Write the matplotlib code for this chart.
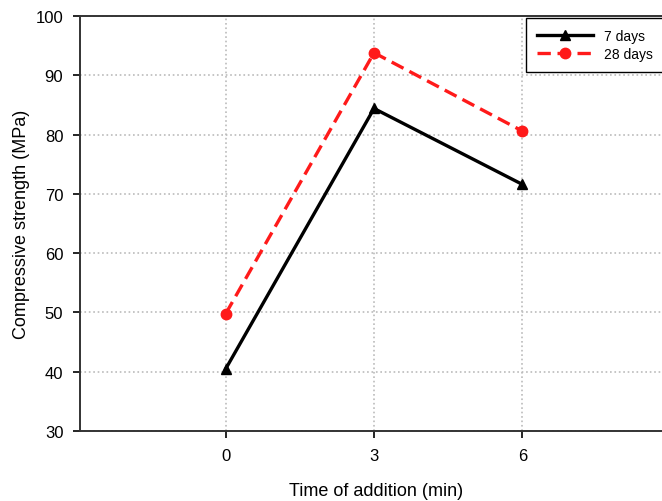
import matplotlib.pyplot as plt

plt.rcParams['font.family'] = ['Liberation Sans', 'DejaVu Sans']

time_min = [0, 3, 6]
strength_7d = [40.5, 84.4, 71.6]
strength_28d = [49.8, 93.8, 80.6]

fig = plt.figure(figsize=(6.62, 5.02), dpi=100)
# the right edge of the original frame is cut off, so the axes run past the figure
ax = fig.add_axes([80 / 662, 1 - 432 / 502, 593 / 662, 415 / 502])

ax.plot(time_min, strength_7d, color="black", linestyle="-", linewidth=2.4,
        marker="^", markersize=7, label="7 days")
ax.plot(time_min, strength_28d, color="#ff1a1a", linestyle="--", linewidth=2.4,
        marker="o", markersize=7.5, dashes=(4, 2), label="28 days")

ax.set_xlim(-2.95, 9.05)
ax.set_ylim(30, 100)
ax.set_xticks(time_min)
ax.set_yticks(range(30, 101, 10))
ax.tick_params(direction="out", length=5, width=1.2, labelsize=12, pad=7)

ax.grid(True, linestyle=":", color="#bbbbbb", linewidth=1.2)
ax.set_axisbelow(True)
for s in ax.spines.values():
    s.set_linewidth(1.4)
    s.set_color("#333333")

ax.set_xlabel("Time of addition (min)", fontsize=13, labelpad=14)
ax.set_ylabel("Compressive strength (MPa)", fontsize=13, labelpad=4)

leg = ax.legend(loc="upper left", bbox_to_anchor=((526 - 80) / 593, 1 - 2 / 415),
                borderaxespad=0, fontsize=10, frameon=True, fancybox=False,
                edgecolor="black", handlelength=4.0, handletextpad=0.8,
                borderpad=0.8, labelspacing=0.3, framealpha=1)
leg.get_frame().set_linewidth(1.0)

plt.savefig("out.png", dpi=100)
